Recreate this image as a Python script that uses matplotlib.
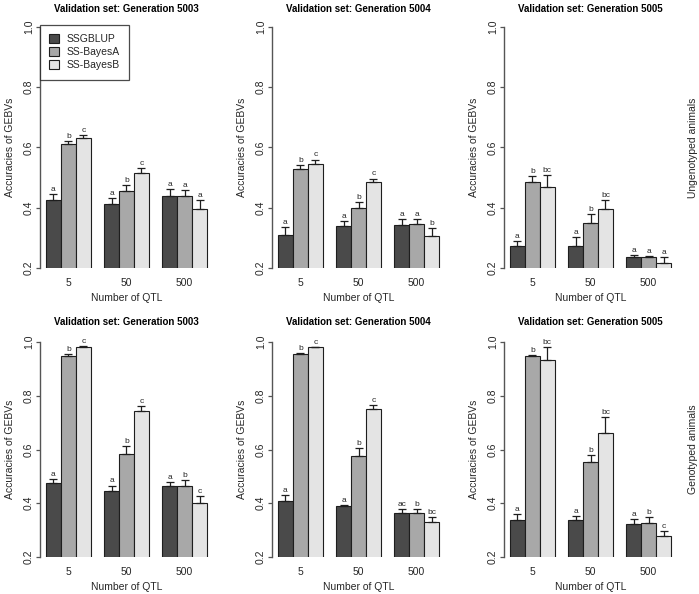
import matplotlib
matplotlib.use("Agg")
import matplotlib.pyplot as plt
from matplotlib.patches import Patch

plt.rcParams['font.family'] = ['Liberation Sans', 'DejaVu Sans']

qtl_labels = ['5', '50', '500']
methods = ['SSGBLUP', 'SS-BayesA', 'SS-BayesB']
generations = ['5003', '5004', '5005']

# rows = methods, cols = QTL (5, 50, 500)
ung_5003_mean = [[0.427, 0.413, 0.440], [0.610, 0.455, 0.440], [0.630, 0.514, 0.396]]
ung_5003_se = [[0.020, 0.018, 0.022], [0.012, 0.020, 0.019], [0.011, 0.017, 0.031]]
ung_5003_let = [['a', 'a', 'a'], ['b', 'b', 'a'], ['c', 'c', 'a']]

ung_5004_mean = [[0.309, 0.341, 0.343], [0.528, 0.398, 0.345], [0.546, 0.484, 0.306]]
ung_5004_se = [[0.028, 0.016, 0.018], [0.013, 0.021, 0.018], [0.014, 0.013, 0.028]]
ung_5004_let = [['a', 'a', 'a'], ['b', 'b', 'a'], ['c', 'c', 'b']]

ung_5005_mean = [[0.273, 0.273, 0.235], [0.485, 0.351, 0.235], [0.470, 0.396, 0.218]]
ung_5005_se = [[0.017, 0.030, 0.007], [0.019, 0.028, 0.006], [0.038, 0.029, 0.018]]
ung_5005_let = [['a', 'a', 'a'], ['b', 'b', 'a'], ['bc', 'bc', 'a']]

gen_5003_mean = [[0.476, 0.446, 0.463], [0.949, 0.584, 0.466], [0.983, 0.742, 0.400]]
gen_5003_se = [[0.014, 0.020, 0.017], [0.005, 0.029, 0.019], [0.003, 0.019, 0.026]]
gen_5003_let = [['a', 'a', 'a'], ['b', 'b', 'b'], ['c', 'c', 'c']]

gen_5004_mean = [[0.407, 0.389, 0.363], [0.954, 0.577, 0.365], [0.980, 0.750, 0.332]]
gen_5004_se = [[0.022, 0.006, 0.016], [0.004, 0.027, 0.015], [0.002, 0.015, 0.017]]
gen_5004_let = [['a', 'a', 'ac'], ['b', 'b', 'b'], ['c', 'c', 'bc']]

gen_5005_mean = [[0.337, 0.338, 0.323], [0.949, 0.552, 0.326], [0.933, 0.660, 0.280]]
gen_5005_se = [[0.022, 0.014, 0.020], [0.004, 0.026, 0.021], [0.049, 0.062, 0.016]]
gen_5005_let = [['a', 'a', 'a'], ['b', 'b', 'b'], ['bc', 'bc', 'c']]

rows = [
    [(ung_5003_mean, ung_5003_se, ung_5003_let),
     (ung_5004_mean, ung_5004_se, ung_5004_let),
     (ung_5005_mean, ung_5005_se, ung_5005_let)],
    [(gen_5003_mean, gen_5003_se, gen_5003_let),
     (gen_5004_mean, gen_5004_se, gen_5004_let),
     (gen_5005_mean, gen_5005_se, gen_5005_let)],
]
row_labels = ['Ungenotyped animals', 'Genotyped animals']

colors = ['#4a4a4a', '#a8a8a8', '#e4e4e4']
W, H = 699, 594
fig = plt.figure(figsize=(W / 100, H / 100), dpi=100)

# axes pixel rectangles: (top_px, bottom_px) per row
row_px = [(27, 268), (342, 557)]
title_pad = [10.5, 12]
col_left = [40, 272, 504]
ax_w = 173

gap = 0.9
fs = 7.5
txt_col = '#262626'

for r, row in enumerate(rows):
    top, bot = row_px[r]
    for c, (mean, se, let) in enumerate(row):
        ax = fig.add_axes([col_left[c] / W, 1 - bot / H, ax_w / W, (bot - top) / H])
        centers = []
        for g in range(3):
            gstart = 1 + g * (3 + gap)
            centers.append(gstart + 1.5)
            for k in range(3):
                x = gstart + k + 0.5
                v = mean[k][g]
                e = se[k][g]
                ax.bar(x, v, width=1.0, bottom=0, color=colors[k],
                       edgecolor='#1e1e1e', linewidth=0.8, zorder=2)
                ax.errorbar(x, v, yerr=[[0], [e]], fmt='none', ecolor='#1e1e1e',
                            elinewidth=0.9, capsize=3.2, capthick=0.9, zorder=3)
                ax.annotate(let[k][g], (x, v + e), xytext=(0, 2.2),
                            textcoords='offset points', ha='center', va='baseline',
                            fontsize=6, color=txt_col, annotation_clip=False)
        ax.set_xlim(1 - 0.4, 1 + 2 * (3 + gap) + 3 + 0.4)
        ax.set_ylim(0.2, 1.0)
        ax.set_yticks([0.2, 0.4, 0.6, 0.8, 1.0])
        ax.set_yticklabels(['0.2', '0.4', '0.6', '0.8', '1.0'], rotation=90,
                           va='center', fontsize=fs, color=txt_col)
        ax.tick_params(axis='y', length=3, width=0.9, color='#555555', pad=1.5)
        ax.set_xticks(centers)
        ax.set_xticklabels(qtl_labels, fontsize=fs, color=txt_col)
        ax.tick_params(axis='x', length=0, pad=7)
        for s in ['top', 'right', 'bottom']:
            ax.spines[s].set_visible(False)
        ax.spines['left'].set_color('#555555')
        ax.spines['left'].set_linewidth(1.0)
        ax.spines['left'].set_bounds(0.2, 1.0)
        ax.set_ylabel('Accuracies of GEBVs', fontsize=fs, color=txt_col, labelpad=6)
        ax.set_xlabel('Number of QTL', fontsize=fs, color=txt_col, labelpad=3.5)
        ax.set_title('Validation set: Generation ' + generations[c], fontsize=7,
                     fontweight='bold', pad=title_pad[r])
        ax.patch.set_visible(False)
        if r == 0 and c == 0:
            handles = [Patch(facecolor=colors[k], edgecolor='#1e1e1e', linewidth=0.8)
                       for k in range(3)]
            leg = ax.legend(handles, methods, loc='upper left', bbox_to_anchor=(0, 1.01),
                            borderaxespad=0, fontsize=fs, frameon=True, fancybox=False,
                            handlelength=0.9, handleheight=0.9, handletextpad=0.75,
                            labelspacing=0.3, borderpad=0.9)
            leg.get_frame().set_edgecolor('#1e1e1e')
            leg.get_frame().set_linewidth(0.9)
            for t in leg.get_texts():
                t.set_color(txt_col)
    fig.text(693 / W, 1 - ((top + bot) / 2) / H, row_labels[r], rotation=90,
             ha='center', va='center', fontsize=7.5, color=txt_col)

fig.savefig('out.png', dpi=100)
